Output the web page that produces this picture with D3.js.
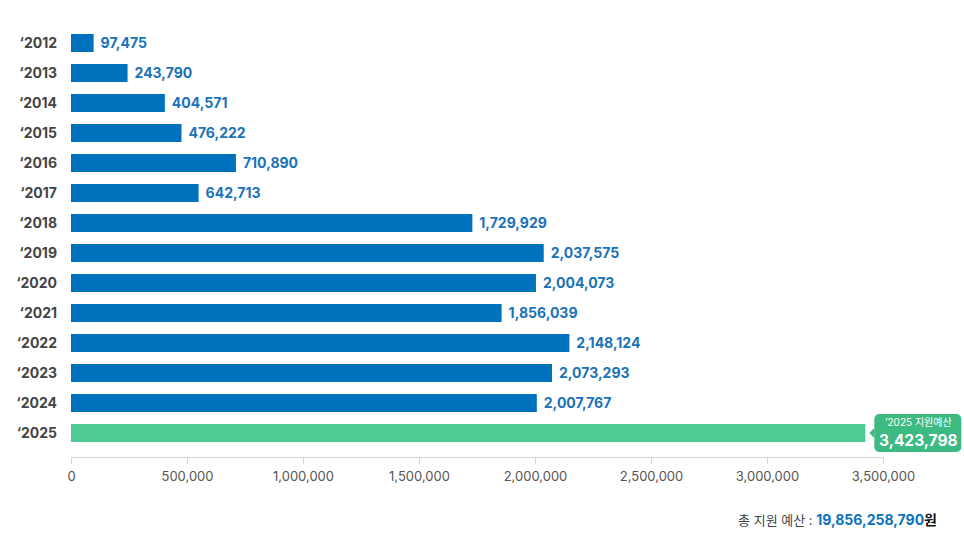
<!DOCTYPE html>
<html>
<head>
<meta charset="utf-8">
<script src="https://cdn.jsdelivr.net/npm/d3@7"></script>
<style>
  body { margin: 0; background: #fff; font-family: Inter, 'Noto Sans CJK KR', sans-serif; }
</style>
</head>
<body>
<div class="container"></div>
<script>
// data
const years = ['2012','2013','2014','2015','2016','2017','2018','2019','2020','2021','2022','2023','2024','2025'];
const budgets = [97475, 243790, 404571, 476222, 710890, 642713, 1729929, 2037575, 2004073, 1856039, 2148124, 2073293, 2007767, 3423798];
// bar lengths as drawn in the picture (the 2017 bar is shorter than its label says)
const barLengths = [97475, 243790, 404571, 476222, 710890, 550000, 1729929, 2037575, 2004073, 1856039, 2148124, 2073293, 2007767, 3423798];
const xTicks = [0, 500000, 1000000, 1500000, 2000000, 2500000, 3000000, 3500000];
const totalBudget = '19,856,258,790';

const W = 964, H = 548;
const margin = {top: 28, left: 71, right: 81};
const fmt = d3.format(',');
const font = "Inter, 'Noto Sans CJK KR', sans-serif";

let svg = d3.select('.container')
  .append('svg')
  .attr('width', W)
  .attr('height', H)
  .style('font-family', font);

let xScale = d3.scaleLinear().domain([0, 3500000]).range([margin.left, W - margin.right]);
let yScale = d3.scaleBand().domain(years)
  .range([margin.top, margin.top + 30 * years.length])
  .paddingInner(0.4)
  .paddingOuter(0.2);

// x axis
let xAxis = d3.axisBottom(xScale).tickValues(xTicks).tickFormat(fmt).tickSize(7).tickPadding(8);
let gx = svg.append('g')
  .attr('transform', 'translate(0,457)')
  .call(xAxis);
gx.select('.domain').attr('stroke', '#d4d4d4');
gx.selectAll('.tick line').attr('stroke', '#d4d4d4');
gx.selectAll('text').attr('fill', '#555').style('font-size', '13px').style('font-family', font);

// y labels
svg.append('g')
  .selectAll('text')
  .data(years)
  .enter().append('text')
    .attr('x', 57)
    .attr('y', d => yScale(d) + yScale.bandwidth() / 2)
    .attr('dy', '0.35em')
    .attr('text-anchor', 'end')
    .attr('fill', '#444')
    .style('font-size', '14px')
    .style('font-weight', 700)
    .text(d => '\u2018' + d);

const data = years.map((y, i) => ({year: y, value: budgets[i], len: barLengths[i]}));
const last = years[years.length - 1];

// bars
svg.append('g')
  .selectAll('rect')
  .data(data)
  .enter().append('rect')
    .attr('x', xScale(0))
    .attr('y', d => yScale(d.year))
    .attr('width', d => xScale(d.len) - xScale(0))
    .attr('height', yScale.bandwidth())
    .attr('fill', d => d.year === last ? '#4ccb95' : '#0071bc');

// value labels
svg.append('g')
  .selectAll('text')
  .data(data.filter(d => d.year !== last))
  .enter().append('text')
    .attr('x', d => xScale(d.len) + 7)
    .attr('y', d => yScale(d.year) + yScale.bandwidth() / 2)
    .attr('dy', '0.36em')
    .attr('fill', '#1a72b9')
    .style('font-size', '14px')
    .style('font-weight', 700)
    .text(d => fmt(d.value));

// callout for last year
let lastD = data[data.length - 1];
let cx = xScale(lastD.len) + 9;
let cy = yScale(last) + yScale.bandwidth() / 2;
let callout = svg.append('g').attr('transform', 'translate(' + cx + ',' + cy + ')');
callout.append('rect')
  .attr('x', 0).attr('y', -19)
  .attr('width', 87).attr('height', 38)
  .attr('rx', 5)
  .attr('fill', '#3dba82');
callout.append('path')
  .attr('d', 'M0,-5 L-5,0 L0,5 Z')
  .attr('fill', '#3dba82');
callout.append('text')
  .attr('x', 44).attr('y', -7)
  .attr('text-anchor', 'middle')
  .attr('fill', '#fff')
  .style('font-size', '10px')
  .text('\u2019' + last + ' 지원예산');
callout.append('text')
  .attr('x', 44).attr('y', 13)
  .attr('text-anchor', 'middle')
  .attr('fill', '#fff')
  .style('font-size', '15.5px')
  .style('font-weight', 700)
  .text(fmt(lastD.value));

// total
let total = svg.append('text')
  .attr('x', 937)
  .attr('y', 525)
  .attr('text-anchor', 'end');
total.append('tspan').attr('fill', '#444').style('font-size', '13px').text('총 지원 예산 : ');
total.append('tspan').attr('fill', '#0b72bd').style('font-size', '14px').style('font-weight', 700).text(totalBudget);
total.append('tspan').attr('fill', '#111').style('font-size', '14px').style('font-weight', 700).text('원');
</script>
</body>
</html>
